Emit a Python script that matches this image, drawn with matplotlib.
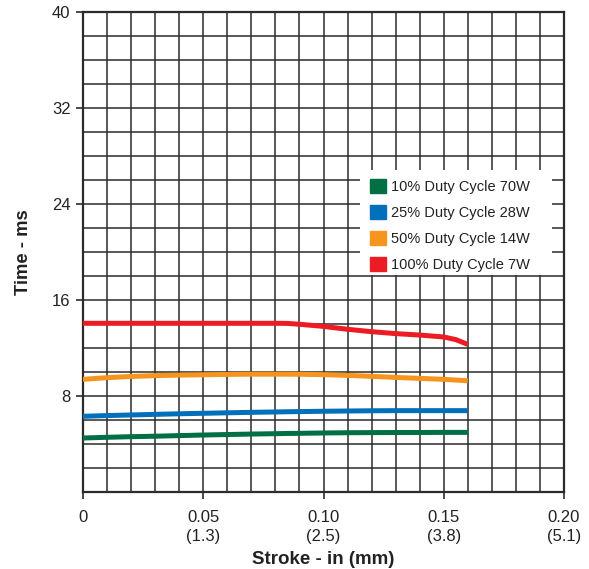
import matplotlib
matplotlib.use("Agg")
import matplotlib.pyplot as plt
from matplotlib.patches import Patch, Rectangle

plt.rcParams['font.family'] = ['Liberation Sans', 'DejaVu Sans']

# stroke in inches
stroke = [0.0, 0.01, 0.02, 0.03, 0.04, 0.05, 0.06, 0.07, 0.08, 0.085, 0.09, 0.10,
          0.11, 0.12, 0.13, 0.14, 0.15, 0.155, 0.16]

# time in ms
t_10 = [4.50, 4.56, 4.61, 4.65, 4.70, 4.75, 4.79, 4.83, 4.86, 4.88, 4.89, 4.92,
        4.94, 4.95, 4.96, 4.96, 4.97, 4.97, 4.97]
t_25 = [6.31, 6.37, 6.42, 6.47, 6.52, 6.56, 6.60, 6.64, 6.67, 6.69, 6.70, 6.73,
        6.75, 6.77, 6.78, 6.78, 6.78, 6.78, 6.78]
t_50 = [9.39, 9.53, 9.63, 9.70, 9.74, 9.77, 9.80, 9.82, 9.82, 9.82, 9.81, 9.78,
        9.72, 9.64, 9.55, 9.47, 9.39, 9.33, 9.27]
t_100 = [14.06, 14.06, 14.06, 14.06, 14.06, 14.06, 14.06, 14.06, 14.06, 14.05, 13.98, 13.80,
         13.56, 13.36, 13.20, 13.08, 12.92, 12.70, 12.30]

series = [
    ("10% Duty Cycle 70W", t_10, "#006f44"),
    ("25% Duty Cycle 28W", t_25, "#0070bb"),
    ("50% Duty Cycle 14W", t_50, "#f7941d"),
    ("100% Duty Cycle 7W", t_100, "#ed1c24"),
]

x_ticks = [0, 0.05, 0.10, 0.15, 0.20]
x_labels = ["0", "0.05\n(1.3)", "0.10\n(2.5)", "0.15\n(3.8)", "0.20\n(5.1)"]
y_ticks = [8, 16, 24, 32, 40]

fig = plt.figure(figsize=(5.89, 5.69), dpi=100)
ax = fig.add_axes([0.1409, 0.1353, 0.8167, 0.8436])

grid_col = "#2b2b2b"
for i in range(1, 20):
    ax.axvline(i * 0.01, color=grid_col, lw=1.1, zorder=1)
    ax.axhline(i * 2, color=grid_col, lw=1.1, zorder=1)

for label, vals, col in series:
    ax.plot(stroke, vals, color=col, lw=3.6, solid_capstyle="butt", zorder=3)

ax.set_xlim(0, 0.20)
ax.set_ylim(0, 40)
ax.set_xticks(x_ticks)
ax.set_xticklabels(x_labels, fontsize=12, color="#222222", linespacing=1.3)
ax.set_yticks(y_ticks)
ax.set_yticklabels([str(v) for v in y_ticks], fontsize=12, color="#222222")
ax.tick_params(direction="out", length=5, width=1.2, color=grid_col)
ax.tick_params(axis="y", pad=4)
ax.tick_params(axis="x", pad=8)
for s in ax.spines.values():
    s.set_color(grid_col)
    s.set_linewidth(1.6)

ax.set_xlabel("Stroke - in (mm)", fontsize=13.5, fontweight="bold", color="#222222", labelpad=5)
ax.set_ylabel("Time - ms", fontsize=13.3, fontweight="bold", color="#222222", va="center")
ax.yaxis.set_label_coords(-0.123, 0.5)

# white box behind the legend
ax.add_patch(Rectangle((0.576, 0.452), 0.399, 0.219, transform=ax.transAxes,
                       facecolor="white", edgecolor="none", zorder=4))

handles = [Patch(facecolor=c, edgecolor=c, label=l) for l, v, c in series]
leg = ax.legend(handles=handles, loc="upper left", bbox_to_anchor=(0.576, 0.672),
                fontsize=10.5, frameon=False,
                handlelength=1.1, handleheight=1.1, handletextpad=0.4,
                labelspacing=0.75, borderpad=0.65, borderaxespad=0)
for txt in leg.get_texts():
    txt.set_color("#222222")
leg.set_zorder(5)

fig.savefig("out.png", dpi=100)
